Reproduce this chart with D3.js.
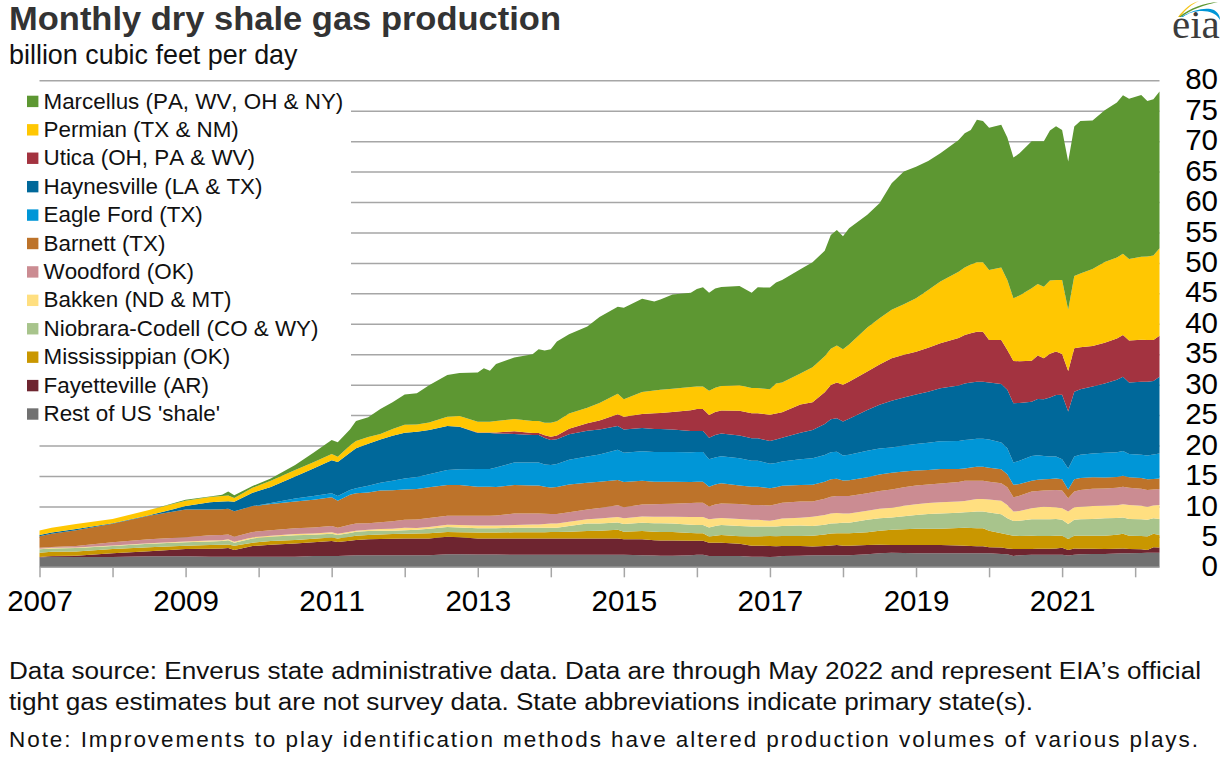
<!DOCTYPE html>
<html><head><meta charset="utf-8">
<script src="https://cdn.jsdelivr.net/npm/d3@7"></script>
<style>html,body{margin:0;padding:0;background:#fff}svg{display:block}text{font-family:"Liberation Sans",Arial,sans-serif;font-kerning:none}</style>
</head><body><svg id="c" width="1229" height="757"></svg>
<script>
const months=[0,2,6,12,18,24,28,30,31,32,
35,38,42,45,48,49,51,52,54,56,
58,60,62,64,67,69,72,73,74,75,
78,81,82,83,84,85,87,90,92,95,
96,99,101,102,104,107,108,109,110,111,
112,115,117,118,120,121,122,125,127,129,
130,131,132,133,136,138,140,142,144,146,
148,151,152,153,154,155,156,158,159,160,
161,163,164,165,166,167,168,169,170,171,
173,175,177,178,179,181,182,183,184];

const rest=[1.6,1.75,1.7,1.7,1.8,1.8,1.75,1.75,1.75,1.75,
1.75,1.75,1.75,1.85,1.85,1.85,1.95,2,2,2,
2,2,2,2,2.15,2.15,2.1,2.1,2.1,2.1,
2.05,2.05,2.05,2.05,2.05,2.05,2.05,2.05,2.05,2.05,
2.05,2,1.95,1.9,1.9,2,2.05,2.05,1.85,1.85,
1.85,1.85,1.75,1.75,1.7,1.75,1.85,1.9,2,2,
2,2,2,2,2.15,2.3,2.4,2.35,2.3,2.3,
2.3,2.3,2.3,2.3,2.3,2.3,2.3,2.2,2.15,1.85,
2,2.05,2.05,2.05,2.05,2.05,2.05,1.95,2.05,2.15,
2.2,2.2,2.25,2.3,2.3,2.35,2.4,2.4,2.4];
const fayetteville=[.1,.1,.2,.6,.85,1.2,1.3,1.35,1.4,1.1,
1.75,1.95,2.15,2.25,2.45,2.3,2.4,2.5,2.6,2.65,
2.7,2.75,2.75,2.75,2.85,2.8,2.65,2.65,2.65,2.65,
2.7,2.7,2.7,2.7,2.7,2.7,2.7,2.7,2.7,2.7,
2.55,2.6,2.5,2.5,2.5,2.35,2.3,2.3,2.2,2.2,
2.2,2,1.8,1.8,1.8,1.7,1.65,1.6,1.4,1.5,
1.6,1.65,1.55,1.55,1.5,1.4,1.25,1.3,1.35,1.35,
1.35,1.3,1.25,1.2,1.15,1.15,1,1.05,.95,1.15,
1,.95,1,1,1,1.05,1.15,.9,1.05,.9,
.85,.8,.8,.8,.7,.6,.45,.9,.85];
const mississippian=[.7,.7,.7,.7,.65,.55,.6,.6,.6,.7,
.55,.6,.6,.6,.6,.6,.65,.7,.7,.75,
.75,.75,.8,.85,.8,.8,.95,.95,.95,.95,
1,1,1,1,1.05,1.05,1.1,1.2,1.25,1.4,
1.25,1.35,1.4,1.4,1.4,1.3,1.25,1.25,1,1.15,
1.25,1.25,1.5,1.5,1.65,1.65,1.65,1.65,1.8,1.9,
1.95,1.95,2.05,2.05,2.1,2.3,2.5,2.6,2.7,2.7,
2.7,2.85,2.95,2.95,2.95,2.95,2.7,2.35,2.3,2.2,
2.15,2.2,2.1,2.1,2.1,2.1,2,1.8,2.1,2.15,
2.15,2.2,2.3,2.4,2.2,2.2,2.2,2.2,2.05];
const niobrara=[.55,.55,.55,.5,.55,.55,.6,.6,.7,.5,
.7,.7,.75,.65,.6,.55,.65,.65,.65,.6,
.55,.6,.6,.75,.8,.8,.7,.7,.7,.7,
.75,.75,.75,.75,.7,.7,.95,1.25,1.2,1.2,
1.25,1.35,1.4,1.45,1.4,1.35,1.35,1.35,1.5,1.6,
1.65,1.7,1.65,1.65,1.55,1.6,1.65,1.7,1.6,1.6,
1.65,1.65,1.7,1.7,2.05,2.05,2.05,2.15,2.25,2.4,
2.5,2.5,2.55,2.65,2.75,2.75,3,3.1,2.65,2.4,
2.5,2.7,2.75,2.75,2.75,2.75,2.6,2.45,2.6,2.7,
2.75,2.85,2.75,2.7,2.75,2.75,2.75,2.55,2.65];
const bakken=[.1,.1,.1,.1,.1,.15,.15,.15,.15,.15,
.2,.2,.2,.2,.25,.2,.2,.15,.2,.3,
.35,.4,.3,.25,.4,.4,.45,.45,.45,.45,
.45,.55,.55,.6,.7,.7,.7,.7,.8,.9,
.95,1.05,1.05,1.05,1.1,1.25,1.3,1.3,1.35,1.2,
1.15,1.15,1.1,1.1,.95,1.1,1.2,1.3,1.5,1.6,
1.65,1.65,1.55,1.55,1.5,1.55,1.6,1.7,1.75,1.8,
1.85,1.85,1.85,1.95,2.05,2.05,2.15,2.25,2.2,1.55,
1.6,1.8,1.95,2.05,2,1.9,1.9,2.05,2.05,2.05,
2.1,2.05,2.1,2.15,2.3,2.2,2.15,2.1,2.3];
const woodford=[.15,.15,.25,.5,.65,.7,.85,.85,.8,.8,
.85,.9,.95,1,1.05,1,1.15,1.2,1.1,1.1,
1.2,1.3,1.4,1.5,1.45,1.5,1.6,1.6,1.6,1.65,
1.9,1.8,1.8,1.7,1.55,1.55,1.55,1.6,1.75,1.95,
1.8,1.95,2.05,2.1,2.15,2.3,2.35,2.35,2.1,2.3,
2.4,2.45,2.45,2.45,2.5,2.55,2.6,2.65,2.5,2.65,
2.75,2.8,2.85,2.85,2.85,2.95,3,3.05,3.1,3.05,
3.05,3.2,3.3,3.15,3,3,2.9,2.85,2.9,2.35,
2.5,2.75,2.7,2.65,2.75,2.85,2.9,2.2,2.6,2.75,
2.85,2.85,2.85,2.9,2.8,2.8,2.75,2.65,2.6];
const barnett=[1.9,2.15,2.6,3.05,3.85,4.55,4.25,4.25,4.2,4.2,
4.25,4.3,4.4,4.55,4.7,4.45,4.9,4.95,5.05,5.2,
5.1,5,5,5.05,5.05,5.05,4.8,4.8,4.8,4.7,
4.65,4.6,4.6,4.45,4.35,4.45,4.55,4.4,4.3,4.15,
4.15,3.9,3.7,3.65,3.6,3.45,3.45,3.45,3.25,3.3,
3.3,3.05,3,3,2.85,2.8,2.8,2.7,2.75,2.8,
2.85,2.85,2.55,2.6,2.65,2.7,2.75,2.6,2.45,2.4,
2.4,2.15,2.05,2.2,2.3,2.3,2.3,2.3,2.15,2.05,
1.95,1.75,1.85,1.85,1.85,1.9,1.85,1.45,2,1.95,
1.9,1.8,1.8,1.8,1.75,1.75,1.75,1.7,1.75];
const eagleFord=[0,0,0,0,0,0,0,0,0,0,
0,.15,.5,.6,.65,.75,.8,.85,1.1,1.3,
1.55,1.8,2,2.15,2.5,2.6,2.9,2.9,2.9,3.2,
3.7,3.75,3.75,3.65,3.7,3.75,4.05,4.3,4.5,4.95,
4.8,4.85,4.9,4.9,4.9,4.9,4.9,4.9,4.5,4.45,
4.45,4.45,4.25,4.25,4,4,4,4.25,4.35,4.4,
4.45,4.45,4.1,4.2,4.35,4.25,4.15,4.25,4.35,4.45,
4.55,4.6,4.65,4.6,4.6,4.6,4.65,4.4,4.25,3.65,
3.8,4.1,4,3.85,3.7,3.6,3.3,3.45,3.75,3.85,
3.9,4.05,4.05,4.05,3.8,3.85,3.9,4.05,4.1];
const haynesville=[.2,.2,.2,.1,.1,.55,1.2,1.25,1.25,1.55,
2.2,2.65,3.6,4.55,5.45,5.6,6.1,6.55,6.9,7.1,
7.4,7.5,7.4,7.25,7.2,7,5.9,5.9,5.9,5.6,
4.7,4.55,4.55,4.35,4.1,4.1,4.2,4.25,4.1,3.9,
3.85,3.85,3.75,3.75,3.7,3.5,3.45,3.45,3.55,3.7,
3.75,3.75,3.7,3.7,3.75,3.85,3.9,4.35,4.65,5.1,
5.4,5.5,5.6,5.9,6.7,7.2,7.65,7.9,8.15,8.4,
8.7,9.1,9.3,9.35,9.4,9.4,9.35,9.6,9.6,9.75,
9.5,8.9,9.25,9.3,9.7,10.1,10.6,9.35,10.65,10.75,
11,11.4,11.9,12.2,11.75,12,12.15,12.05,12.6];
const utica=[0,0,0,0,0,0,0,0,0,0,
0,0,0,0,0,0,0,0,0,0,
0,0,0,0,0,0,.1,.1,.1,.15,
.45,.3,.3,.45,.55,.6,.9,1.2,1.45,1.95,
2.1,2.3,2.6,2.65,2.85,3.4,3.6,3.6,3.7,3.75,
3.75,4.05,4.1,4.1,4.3,4.25,4.15,4.65,4.55,5.2,
5.65,5.85,6.05,6.1,6.3,6.6,7,7,7,7.2,
7.4,7.8,7.95,8.1,8.2,8.2,7,7.25,6.55,6.95,
6.85,6.75,7.15,6.75,7.2,7.15,6.7,6.65,7.15,6.9,
6.65,6.7,6.8,6.85,6.9,6.9,6.85,6.75,6.75];
const permian=[.75,.8,.8,.7,.85,.9,.85,.9,.95,.65,
.8,1,1.1,1,1,.85,1.2,1.2,1.1,.9,
1.1,1.3,1.2,1.25,1.55,1.75,1.75,1.75,1.75,1.9,
2,2,2,2.05,2.3,2.35,2.5,2.55,2.9,3.35,
2.85,3.6,3.75,3.8,3.85,3.8,3.7,3.7,4,4,
4.05,4.2,4.15,4.15,4.2,4.95,4.9,5.1,5.75,5.9,
5.95,6.1,5.8,6.1,7.25,7.6,7.95,8.3,8.8,9.5,
10.15,10.9,11.1,11.3,11.4,11.4,11.5,11.9,11.5,10.3,
10.8,11.9,11.75,11.75,12,11.75,12.15,10.05,11.85,12.1,
12.65,13.25,13.3,13.35,13.4,13.6,13.7,13.85,14.35];
const marcellus=[0,0,0,0,0,.15,.1,.2,.65,.45,
.3,.4,.8,1.55,2.3,2.4,2.65,3.3,3.25,4.1,
4.4,5,5.15,6.1,6.85,7.05,8.1,8.8,8.4,9.35,
10.1,10.95,11.75,11.85,12.05,13.1,13.05,13.35,14.1,14.3,
15.05,15.3,14.6,14.85,15.45,15.5,16,16.3,16.1,16.3,
16.25,16.3,15.65,16.55,16.7,16.6,16.85,17.1,17.25,17.35,
18.7,18.95,18.6,19.1,18.5,18.9,20.8,21.8,21.6,21.2,
21.05,21.65,22.05,22.1,23.4,23.2,23.35,23.45,23.4,23.1,
23.35,24.15,23.45,23.9,24.65,25.25,24.65,24.35,24.55,25.05,
24.4,24.95,25.45,26.05,26.3,26.6,25.55,25.7,25.75];

const legendLabels=["Marcellus (PA, WV, OH & NY)","Permian (TX & NM)","Utica (OH, PA & WV)","Haynesville (LA & TX)","Eagle Ford (TX)","Barnett (TX)","Woodford (OK)","Bakken (ND & MT)","Niobrara-Codell (CO & WY)","Mississippian (OK)","Fayetteville (AR)","Rest of US 'shale'"];
const legendColors=["#5d9732","#ffc702","#a33340","#00689a","#0096d7","#bd732a","#cb8c92","#ffdf80","#a8c48c","#c99700","#6e2530","#717171"];
const seriesTopDown=[marcellus,permian,utica,haynesville,eagleFord,barnett,woodford,bakken,niobrara,mississippian,fayetteville,rest];
const yTicks=[0,5,10,15,20,25,30,35,40,45,50,55,60,65,70,75,80];
const xTicks=[0,12,24,36,48,60,72,84,96,108,120,132,144,156,168,180];
const xLabels=["2007","","2009","","2011","","2013","","2015","","2017","","2019","","2021",""];
const title="Monthly dry shale gas production", subtitle="billion cubic feet per day";
const footer=["Data source: Enverus state administrative data. Data are through May 2022 and represent EIA’s official","tight gas estimates but are not survey data. State abbreviations indicate primary state(s).","Note: Improvements to play identification methods have altered production volumes of various plays."];

const svg=d3.select("#c");
const x=d3.scaleLinear().domain([0,184]).range([39.5,1159.5]);
const y=d3.scaleLinear().domain([0,80]).range([567.3,80.3]);
const gridColor="#a6a6a6";

// grid
svg.append("g").call(d3.axisLeft(y).tickValues(yTicks.slice(1)).tickSize(-(x(184)-x(0))).tickFormat(""))
 .attr("transform","translate(39.5,0)").call(g=>{g.select(".domain").remove();g.selectAll("line").attr("stroke",gridColor).attr("stroke-width",1.5);});

// legend backing
const legX=27,legY0=101.5,legStep=28.42;
svg.append("rect").attr("x",20).attr("y",85).attr("width",331).attr("height",345).attr("fill","#fff");

// stacked areas
const rows=months.map((m,i)=>{const r={m};seriesTopDown.forEach((s,k)=>r[k]=s[i]);return r;});
const keys=d3.range(seriesTopDown.length).reverse();
const stack=d3.stack().keys(keys)(rows);
const area=d3.area().x(d=>x(d.data.m)).y0(d=>y(d[0])).y1(d=>y(d[1])).curve(d3.curveLinear);
svg.append("g").selectAll("path").data(stack).join("path").attr("d",area).attr("fill",d=>legendColors[d.key]);

// x axis
svg.append("g").attr("transform","translate(0,567.3)").call(d3.axisBottom(x).tickValues(xTicks).tickSize(10).tickPadding(14).tickFormat((d,i)=>xLabels[i]))
 .call(g=>{g.select(".domain").attr("stroke",gridColor).attr("stroke-width",1.5).attr("d",`M39.5,0H${x(184)}`);
  g.selectAll("line").attr("stroke",gridColor).attr("stroke-width",1.5);
  g.selectAll("text").attr("fill","#000").style("font-size","29.5px").style("font-family","'Liberation Sans'").attr("y",44).attr("dy",0);});

// y axis
svg.append("g").attr("transform","translate(1218,0)").call(d3.axisRight(y).tickValues(yTicks).tickSize(0))
 .call(g=>{g.select(".domain").remove();g.selectAll("text").attr("x",0).attr("dy","8.6px").attr("text-anchor","end").attr("fill","#000").style("font-size","29.5px").style("font-family","'Liberation Sans'");});

// titles
svg.append("text").attr("x",9).attr("y",29.5).attr("font-size",34).attr("font-weight","bold").attr("fill","#333").attr("textLength",552).attr("lengthAdjust","spacingAndGlyphs").text(title);
svg.append("text").attr("x",9).attr("y",64).attr("font-size",26.9).attr("fill","#111").text(subtitle);

// legend
const lg=svg.append("g").selectAll("g").data(legendLabels).join("g").attr("transform",(d,i)=>`translate(${legX},${legY0+i*legStep})`);
lg.append("rect").attr("y",-5.8).attr("width",11.4).attr("height",11.4).attr("fill",(d,i)=>legendColors[i]);
lg.append("text").attr("x",16.5).attr("y",7).attr("font-size",22.4).attr("fill","#111").text(d=>d);

// footer
const footY=[679,710,746.5], footW=[1192,1024,1189], footS=[23.5,23.5,22.5], footA=["spacingAndGlyphs","spacingAndGlyphs","spacing"];
svg.append("g").selectAll("text").data(footer).join("text").attr("x",9).attr("y",(d,i)=>footY[i]).attr("font-size",(d,i)=>footS[i]).attr("fill","#111")
 .attr("textLength",(d,i)=>footW[i]).attr("lengthAdjust",(d,i)=>footA[i]).text(d=>d);

// EIA mark
const logo=svg.append("g").attr("class","logo");
logo.append("path").attr("d","M1178,17 C1184,9 1191,3 1199,1 C1192,4 1186,9 1180,17Z").attr("fill","#f5c518");
logo.append("path").attr("d","M1179,17 C1190,8 1204,3 1218,2 C1204,5 1192,9 1181,17Z").attr("fill","#5d9732");
logo.append("path").attr("d","M1181,17 C1194,9 1207,7 1214,10 C1219,13 1220,17 1220,20 C1217,14 1210,11 1202,11 C1195,11 1188,13 1183,17Z").attr("fill","#0096d7");
logo.append("text").attr("x",1172).attr("y",37.5).attr("font-size",41).attr("fill","#3c3c3c").style("font-family","'Liberation Serif'").text("eia");
</script></body></html>
